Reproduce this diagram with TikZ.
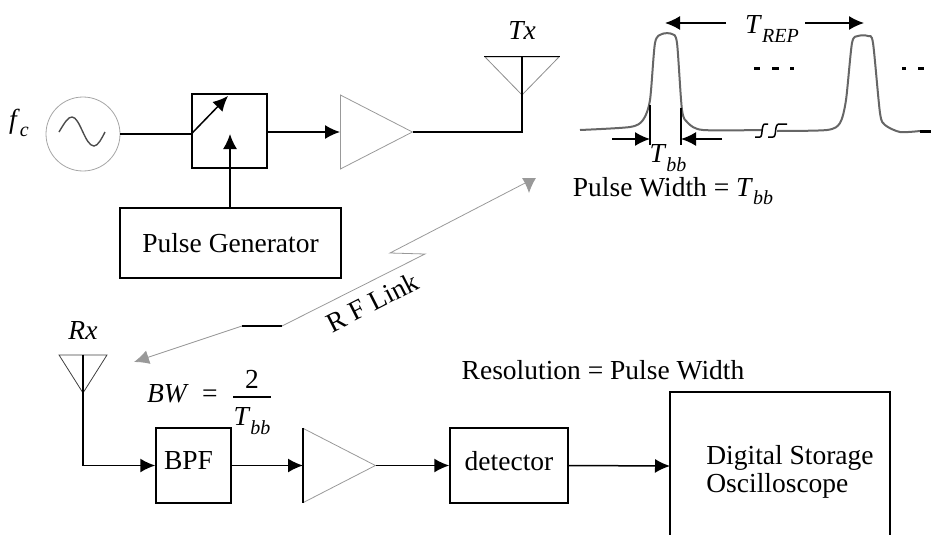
\documentclass[tikz,border=0pt]{standalone}
\usepackage{fontspec}
\setmainfont{Liberation Serif}
\usetikzlibrary{positioning}
\usetikzlibrary{arrows.meta}
\usetikzlibrary{calc}
\usetikzlibrary{shapes.geometric}

\newcommand{\symsub}[2]{\textit{#1}\raisebox{-0.3em}{\fontsize{20}{20}\selectfont\textit{#2}}}

\begin{document}
\begin{tikzpicture}[ x = 1pt
                     , y = -1pt
                     , font = \fontsize{27.5}{32}\selectfont
                     , >={Latex[width=14pt, length=15pt]}
                     , every node/.style = { inner sep = 0pt
                                         , align = center }
                     ]
  \useasboundingbox (0,0) rectangle (934,535);

  %%
  %% Nodes
  %%
  \tikzset{ block/.style={rectangle, draw=black, line width=1.5pt}
          , amp/.style={ isosceles triangle, isosceles triangle stretches
                       , draw=black!40, line width=0.8pt
                       , minimum height=72pt, minimum width=74pt}
          , aerial/.style={ isosceles triangle, isosceles triangle stretches
                          , shape border rotate=270
                          , draw=black!45, line width=0.8pt}
          , wire/.style={black, line width=1.5pt}
          , link/.style={black!40, line width=0.8pt}
          , trace/.style={black!60, line width=2pt}
          , dotmark/.style={black, line width=3pt}
          }

  \node (fc) at (19,123) {\symsub{f}{c}};
  \node (osc) [circle, draw=black!35, line width=0.8pt, minimum size=74pt] at (83,134) {};
  \node (sw) [block, minimum width=75pt, minimum height=74pt] at (229.5,131) {};
  \coordinate (swtip) at (228,96);
  \coordinate (swctl) at (230,134);
  \node (pgen) [block, minimum width=221pt, minimum height=70pt] at (230.5,243) {Pulse Generator};
  \node (amptx) [amp, anchor=lower side] at (340,132) {};
  \node (anttx) [aerial, minimum height=38pt, minimum width=74pt, anchor=apex] at (522,96) {};
  \node (tx) at (522,30) {\textit{Tx}};

  \node (trep) at (772,29) {\symsub{T}{REP}};
  \coordinate (trepl) at (665,23);
  \coordinate (trepr) at (864,23);
  \coordinate (bbl) at (650,139);
  \coordinate (bbr) at (681,139);
  \node (tbb) at (668,158) {\symsub{T}{bb}};
  \node (pw) at (673,191) {Pulse Width = \symsub{T}{bb}};

  \coordinate (rftop) at (529,193);
  \coordinate (rfbot) at (134,362);
  \node (rflink) [rotate=27] at (372,302) {R F Link};

  \node (rx) at (83,330) {\textit{Rx}};
  \node (antrx) [aerial, draw=black!75, minimum height=38pt, minimum width=48pt, anchor=apex] at (83,394) {};
  \node (bw) at (168,394) {\textit{BW}};
  \node (eq) at (210,396) {=};
  \node (two) at (252,379) {2};
  \node (den) at (252,421) {\symsub{T}{bb}};
  \node (res) at (603,370) {Resolution = Pulse Width};
  \node (bpf) [block, minimum width=75pt, minimum height=75pt] at (193.5,465.5) {\raisebox{10pt}{BPF\hspace{10pt}}};
  \node (amprx) [amp, anchor=lower side] at (303,465.5) {};
  \node (det) [block, minimum width=118pt, minimum height=75pt] at (509,465.5) {\raisebox{9pt}{detector}};
  \node (dso) [align=left] at (790,472) {Digital Storage\\[-4pt]Oscilloscope};
  \coordinate (dsoin) at (670,466);

  %%
  %% Relationship between nodes (arrows)
  %%
  % Transmit chain.
  \draw[wire] (osc.east) -- (sw.west |- osc.east);
  \draw[wire, ->] (sw.west |- osc.east) -- (swtip);
  \draw[wire, ->] (pgen.north -| swctl) -- (swctl);
  \draw[wire, ->] (sw.east |- amptx.lower side) -- (amptx.lower side);
  \draw[wire] (amptx.apex) -| (anttx.lower side);
  \draw[wire] (anttx.left corner) -- (anttx.right corner);
  % Receive chain.
  \draw[wire] (antrx.lower side) -- (antrx.apex);
  \draw[wire, ->] (antrx.apex) |- (bpf.west);
  \draw[wire, ->] (bpf.east) -- (amprx.lower side);
  \draw[wire] (amprx.left corner) -- (amprx.right corner);
  \draw[wire, ->] (amprx.apex) -- (det.west);
  \draw[wire, ->] (det.east) -- (dsoin);
  % R F link.
  \draw[link, ->] (282,326) -- (425,254) -- (390,253) -- (529,181) -- (rftop);
  \draw[link, ->] (242,326) -- (rfbot);
  \draw[wire] (242,326) -- (282,326);
  % Storage box, cut off by the page.
  \draw[wire] (dsoin |- 0,535) |- (890,392) -- (890,535);
  % Inside the oscillator.
  \draw[black!70, line width=1.4pt] (59,132) .. controls (65,122) and (68,117) .. (72,117)
     .. controls (80,117) and (85,146) .. (94,146) .. controls (98,146) and (102,138) .. (105,132);

  %%
  %% Pulses
  %%
  \draw[trace] plot[smooth, tension=0.45] coordinates
     {(580,130) (630,127) (643,120) (650,100) (655,43) (662,34) (672,34) (677,43) (682,110) (688,123) (703,130) (762,130)};
  \draw[trace] plot[smooth, tension=0.45] coordinates
     {(777,131) (827,130) (840,123) (846,100) (852,43) (858,36) (868,36) (873,43) (880,113) (885,125) (900,132) (920,131)};
  \draw[wire] (755,137) -- (760,137) .. controls (763,137) and (761,124) .. (765,124) -- (768,124);
  \draw[wire] (768,137) -- (773,137) .. controls (777,137) and (774,124) .. (779,124) -- (787,124);
  \draw[dotmark] (920,131) -- (931,131);
  \foreach \x/\w in {754/6, 772/7, 790/4, 902/4, 918/6}
    \draw[dotmark] (\x,69) -- ++(\w,0);
  \draw[wire, ->] (726,23) -- (trepl);
  \draw[wire, ->] (805,23) -- (trepr);
  \draw[wire] (bbl |- 0,105) -- (bbl |- 0,145);
  \draw[wire] (bbr |- 0,108) -- (bbr |- 0,145);
  \draw[wire, ->] (612,139) -- (bbl);
  \draw[wire, ->] (722,139) -- (bbr);
  \draw[wire] (233,397) -- (271,397);
\end{tikzpicture}
\end{document}
